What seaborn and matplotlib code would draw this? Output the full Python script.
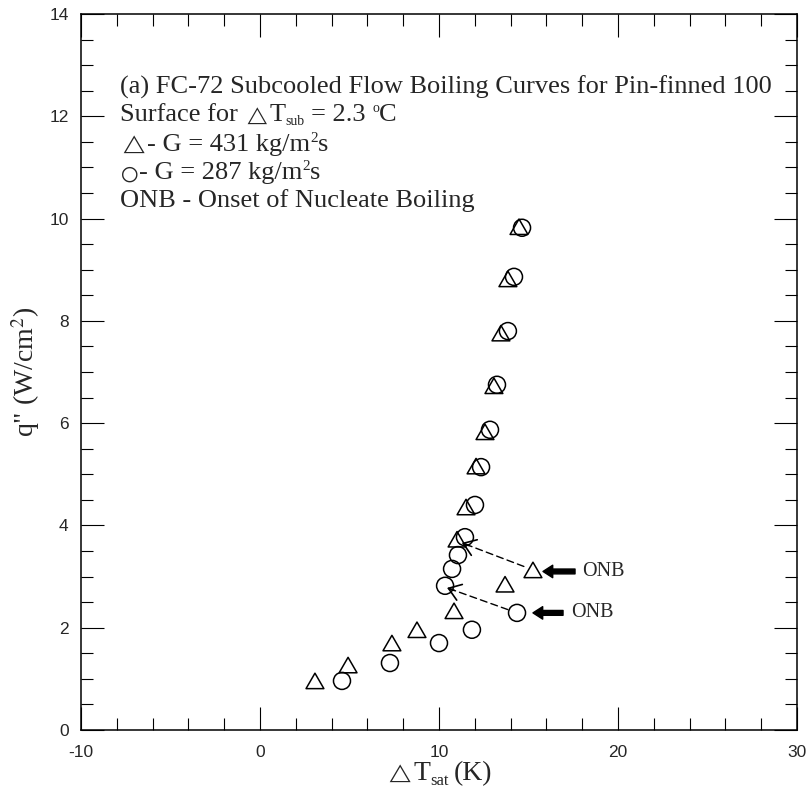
import numpy as np
import pandas as pd
import matplotlib
matplotlib.use("Agg")
import matplotlib.pyplot as plt
import matplotlib.transforms as mtransforms
from matplotlib.path import Path
from matplotlib.ticker import MultipleLocator
import seaborn as sns

# G = 431 kg/m2s (triangles)
dt_431 = [3.07, 4.92, 7.37, 8.77, 10.84, 13.69, 15.25, 11.01, 11.51, 12.07,
          12.57, 13.07, 13.46, 13.85, 14.47]
q_431 = [0.96, 1.27, 1.70, 1.96, 2.33, 2.85, 3.13, 3.73, 4.36, 5.16,
         5.83, 6.73, 7.76, 8.82, 9.84]

# G = 287 kg/m2s (circles)
dt_287 = [4.58, 7.26, 10.00, 11.84, 14.36, 10.34, 10.73, 11.06, 11.45, 12.01,
          12.35, 12.85, 13.24, 13.85, 14.19, 14.64]
q_287 = [0.96, 1.31, 1.70, 1.96, 2.29, 2.82, 3.15, 3.42, 3.77, 4.40,
         5.14, 5.87, 6.75, 7.80, 8.86, 9.82]

# ONB points and where the dashed pointers end
onb_431 = (15.25, 3.13)
onb_431_tip = (11.28, 3.66)
onb_287 = (14.36, 2.29)
onb_287_tip = (10.45, 2.78)

df = pd.concat([
    pd.DataFrame({"dT": dt_431, "q": q_431, "G": "431"}),
    pd.DataFrame({"dT": dt_287, "q": q_287, "G": "287"}),
])

sns.set_style("ticks")
plt.rcParams["font.family"] = ["Liberation Serif", "DejaVu Sans"]
plt.rcParams["mathtext.fontset"] = "stix"
plt.rcParams["axes.unicode_minus"] = False

# equilateral triangle marker
tri = Path([(-1, -0.866), (1, -0.866), (0, 0.866), (-1, -0.866)],
           [Path.MOVETO, Path.LINETO, Path.LINETO, Path.CLOSEPOLY])

fig = plt.figure(figsize=(8.11, 7.98), dpi=100)
ax = fig.add_axes([0.0999, 0.0852, 0.8828, 0.8973])

sns.scatterplot(data=df[df["G"] == "431"], x="dT", y="q", marker=tri, s=165,
                facecolors="none", edgecolor="black", linewidth=1.1,
                ax=ax, legend=False, zorder=3)
sns.scatterplot(data=df[df["G"] == "287"], x="dT", y="q", marker="o", s=150,
                facecolors="none", edgecolor="black", linewidth=1.1,
                ax=ax, legend=False, zorder=3)

# dashed pointers to ONB with open heads
for start, tip in [(onb_431, onb_431_tip), (onb_287, onb_287_tip)]:
    ax.annotate("", xy=tip, xytext=start,
                arrowprops=dict(arrowstyle="-", linestyle=(0, (5, 3)), lw=1.0,
                                color="black", shrinkA=7, shrinkB=0))
    back = (tip[0] + 0.4 * (start[0] - tip[0]) / abs(start[0] - tip[0]),
            tip[1] + 0.4 * (start[1] - tip[1]) / abs(start[0] - tip[0]))
    ax.annotate("", xy=tip, xytext=back,
                arrowprops=dict(arrowstyle="->,head_length=0.85,head_width=0.6",
                                lw=1.2, color="black", shrinkA=0, shrinkB=0))

# bold ONB arrows
for tip_x, tail_x, y, tx in [(15.81, 17.6, 3.10, 17.99), (15.25, 16.93, 2.29, 17.37)]:
    ax.annotate("", xy=(tip_x, y), xytext=(tail_x, y),
                arrowprops=dict(arrowstyle="simple,head_length=0.7,head_width=0.9,tail_width=0.35",
                                color="black", mutation_scale=10, shrinkA=0, shrinkB=0))
    ax.text(tx, y, "ONB", fontsize=14.5, va="center", ha="left")


# text made of pieces with their own sizes, sharing one baseline
def piece_widths(pieces):
    r = fig.canvas.get_renderer()
    ws = []
    for s, size, dy, gap in pieces:
        t = fig.text(0, 0, s, fontsize=size)
        ws.append(t.get_window_extent(r).width + gap)
        t.remove()
    return ws


def draw_pieces(x, y, pieces, center=False):
    ws = piece_widths(pieces)
    off = -sum(ws) / 2 if center else 0
    for (s, size, dy, gap), w in zip(pieces, ws):
        tr = mtransforms.offset_copy(ax.transAxes, fig=fig, x=off, y=dy, units="dots")
        ax.text(x, y, s, transform=tr, fontsize=size, va="baseline", ha="left",
                clip_on=False)
        off += w


fs = 19
sp = 6.5
tx0 = 0.054
draw_pieces(tx0, 0.889, [("(a) FC-72 Subcooled Flow Boiling Curves for Pin-finned 100", fs, 0, 0)])
draw_pieces(tx0, 0.850, [("Surface for", fs, 0, sp), (r"$\triangle$", 13, 0, 1),
                         ("T", fs, 0, 0), ("sub", 10, -4, sp), ("= 2.3", fs, 0, sp),
                         ("o", 10, 9, 0), ("C", fs, 0, 0)])
draw_pieces(tx0, 0.809, [(r"$\triangle$", 14, 0, 1), ("- G = 431 kg/m", fs, 0, 0),
                         ("2", 11, 9, 0), ("s", fs, 0, 0)])
draw_pieces(tx0, 0.770, [(r"$\bigcirc$", 15, -1, 1), ("- G = 287 kg/m", fs, 0, 0),
                         ("2", 11, 9, 0), ("s", fs, 0, 0)])
draw_pieces(tx0, 0.731, [("ONB - Onset of Nucleate Boiling", fs, 0, 0)])

# x label
draw_pieces(0.5, -0.070, [(r"$\triangle$", 14, 0, 1), ("T", 20, 0, 0),
                          ("sat", 12, -5, 5), ("(K)", 20, 0, 0)], center=True)

ax.set_xlim(-10, 30)
ax.set_ylim(0, 14)
ax.xaxis.set_major_locator(MultipleLocator(10))
ax.xaxis.set_minor_locator(MultipleLocator(2))
ax.yaxis.set_major_locator(MultipleLocator(2))
ax.yaxis.set_minor_locator(MultipleLocator(0.5))
ax.tick_params(which="both", direction="in", top=True, right=True,
               width=0.8, color="black")
ax.tick_params(which="major", length=16.5, labelsize=12.5)
ax.tick_params(axis="x", which="major", pad=11)
ax.tick_params(axis="y", which="major", pad=9)
ax.tick_params(which="minor", length=8.5)
for lab in ax.get_xticklabels() + ax.get_yticklabels():
    lab.set_fontfamily("Liberation Sans")
for s in ax.spines.values():
    s.set_linewidth(1.1)
    s.set_color("black")

ax.set_xlabel("")
ax.set_ylabel(r'q" (W/cm$^2$)', fontsize=20)
ax.yaxis.set_label_coords(-0.055, 0.5)

fig.savefig("out.png", dpi=100)
